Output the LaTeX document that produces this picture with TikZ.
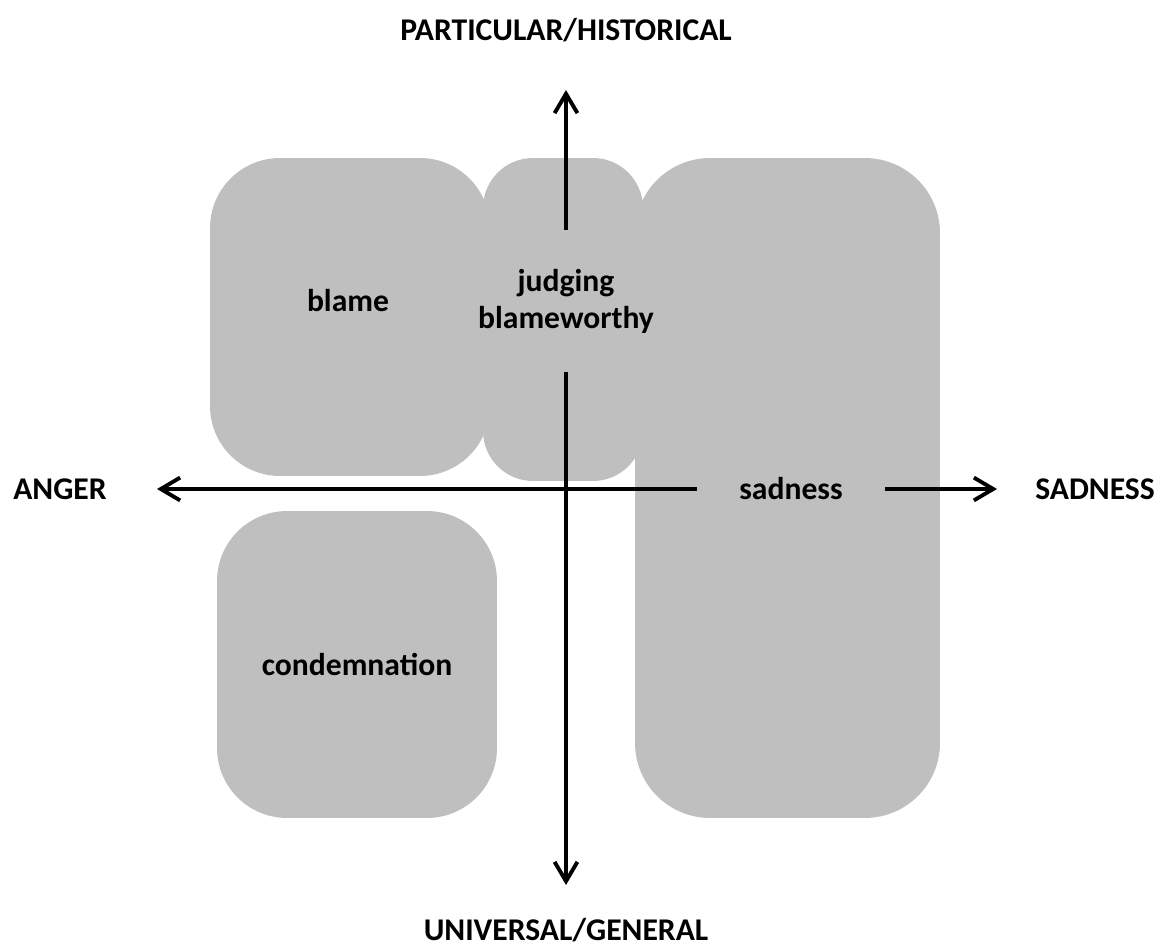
\documentclass[tikz,border=0pt]{standalone}
\usepackage{fontspec}
\setmainfont{Carlito}
\usetikzlibrary{arrows.meta,
positioning}
\definecolor{regiongray}{RGB}{191,191,191}

\begin{document}
\begin{tikzpicture} [x=0.02cm,
    y=-0.02cm,
    line width=2.2pt,
    every node/.style={font=\bfseries\fontsize{18}{21}\selectfont},
    region/.style={rectangle, fill = regiongray, draw = none, inner sep = 0pt},
    axis/.style={-{Straight Barb[length=11pt, width=13pt]}}]

  \useasboundingbox (0,0) rectangle (1166,949);

  % regions
  \node [region,
    rounded corners = 1.4cm,
    minimum width = 5.6cm,
    minimum height = 6.36cm
  ] (blamebox) at (350,317) {};

  \node [region,
    rounded corners = 1cm,
    minimum width = 3.2cm,
    minimum height = 6.46cm
  ] (judgebox) at (563,319.5) {};

  \node [region,
    rounded corners = 1.5cm,
    minimum width = 6.1cm,
    minimum height = 13.2cm
  ] (sadbox) at (787.5,488) {};

  \node [region,
    rounded corners = 1.4cm,
    minimum width = 5.6cm,
    minimum height = 6.14cm
  ] (condemn) at (357,664.5) {condemnation};

  \node [] (blame) at (348,301) {blame};

  \node [align = center,
    minimum height = 2.76cm
  ] (judge) at (566,301) {judging\\blameworthy};

  \node [minimum width = 3.68cm] (sad) at (791,489) {sadness};

  % axes
  \coordinate (top) at (566,90);
  \coordinate (bottom) at (566,885);
  \coordinate (left) at (157,489);
  \coordinate (right) at (997,489);

  \draw [axis] (judge.north) -- (top);
  \draw [axis] (judge.south) -- (bottom);
  \draw [axis] (sad.west) -- (left);
  \draw [axis] (sad.east) -- (right);

  % pole labels
  \node [] (particular) at (566,30) {PARTICULAR/HISTORICAL};
  \node [] (universal) at (566,930) {UNIVERSAL/GENERAL};
  \node [] (anger) at (60,489) {ANGER};
  \node [] (sadness) at (1095,489) {SADNESS};

\end{tikzpicture}
\end{document}
